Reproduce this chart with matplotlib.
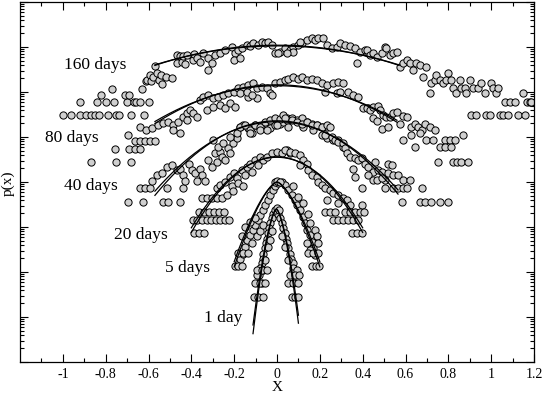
import numpy as np
import matplotlib
matplotlib.use("Agg")
import matplotlib.pyplot as plt
from matplotlib.ticker import LogLocator, NullFormatter, FixedLocator, FuncFormatter

plt.rcParams['font.family'] = ['Liberation Serif', 'DejaVu Serif']
plt.rcParams['axes.unicode_minus'] = False

# ---------------- data: x and log10 p(x) ----------------
x_160 = [-1.00, -0.96, -0.92, -0.89, -0.87, -0.85, -0.83, -0.79, -0.75, -0.74, -0.68, -0.62,
         -0.92, -0.84, -0.80, -0.76, -0.70, -0.67, -0.66, -0.64, -0.60,
         -0.82, -0.71, -0.69, -0.77, -0.63,
         -0.611, -0.606, -0.592, -0.587, -0.578, -0.569, -0.560, -0.550, -0.541, -0.536, -0.517, -0.490,
         -0.466, -0.466, -0.452, -0.443, -0.438, -0.429, -0.420, -0.392, -0.387, -0.373, -0.359,
         -0.344, -0.320, -0.305, -0.320, -0.289, -0.266, -0.242, -0.211, -0.196, -0.180,
         -0.165, -0.141, -0.126, -0.110, -0.087, -0.072, -0.056, -0.040, -0.025, -0.009,
         0.014, 0.037, 0.061, 0.076, 0.099, 0.115, 0.138, 0.162, 0.177, 0.193,
         0.216, 0.232, 0.255, 0.278, 0.294, 0.317, 0.340, 0.364, 0.387, 0.410,
         0.426, 0.372, -0.203, -0.172, 0.006, 0.107, 0.076, 0.045,
         0.418, 0.434, 0.449, 0.465, 0.488, 0.503, 0.511, 0.527, 0.542, 0.558,
         0.573, 0.589, 0.605, 0.620, 0.636, 0.651, 0.667, 0.682, 0.698, 0.713,
         0.721, 0.737, 0.744, 0.760, 0.775, 0.791, 0.799, 0.814, 0.822, 0.838,
         0.853, 0.861, 0.876, 0.884, 0.900, 0.915, 0.938, 0.954, 0.970, 1.000,
         1.008, 1.023, 1.031, 1.063, 1.086, 1.110, 1.149, 1.165, 1.180, 1.188,
         0.908, 0.931, 0.977, 0.993, 1.040, 1.055, 1.079, 1.126, 1.157]
lp_160 = [-2.52, -2.52, -2.52, -2.52, -2.52, -2.52, -2.52, -2.52, -2.52, -2.52, -2.52, -2.52,
          -2.23, -2.23, -2.23, -2.23, -2.23, -2.23, -2.23, -2.23, -2.23,
          -2.06, -2.06, -2.06, -1.93, -1.93,
          -1.75, -1.73, -1.62, -1.75, -1.66, -1.42, -1.57, -1.73, -1.62, -1.82, -1.66, -1.69,
          -1.18, -1.36, -1.20, -1.33, -1.21, -1.38, -1.18, -1.29, -1.16, -1.24, -1.33,
          -1.14, -1.25, -1.36, -1.50, -1.18, -1.13, -1.07, -0.99, -1.14, -1.07,
          -1.03, -0.96, -0.98, -0.92, -0.96, -0.88, -0.92, -0.88, -0.96, -1.14,
          -1.10, -1.03, -1.07, -0.99, -0.96, -0.92, -0.84, -0.81, -0.84, -0.81,
          -0.81, -0.96, -1.03, -0.99, -0.92, -0.96, -0.98, -1.03, -1.10, -1.07,
          -1.14, -1.36, -1.29, -1.25, -1.14, -0.88, -1.10, -1.14,
          -1.07, -1.18, -1.14, -1.22, -1.14, -0.99, -1.03, -1.18, -1.14, -1.10,
          -1.44, -1.36, -1.29, -1.36, -1.51, -1.36, -1.40, -1.66, -1.44, -2.03,
          -1.81, -1.73, -1.62, -1.73, -1.81, -1.73, -1.57, -1.73, -1.92, -2.03,
          -1.73, -1.92, -1.92, -2.03, -1.73, -1.92, -1.92, -1.81, -2.03, -1.81,
          -1.92, -2.03, -1.92, -2.22, -2.22, -2.22, -2.03, -2.22, -2.22, -2.22,
          -2.52, -2.52, -2.52, -2.52, -2.52, -2.52, -2.52, -2.52, -2.52]

x_80 = [-0.87, -0.75, -0.68, -0.755, -0.69, -0.665, -0.64, -0.662, -0.639, -0.615, -0.592, -0.569,
        -0.695, -0.639, -0.611, -0.583, -0.555,
        -0.531, -0.508, -0.485, -0.462, -0.438, -0.420, -0.406, -0.392, -0.485, -0.452,
        -0.420, -0.373, -0.326, -0.298, -0.135, -0.093,
        -0.359, -0.344, -0.320, -0.297, -0.274, -0.250, -0.227, -0.203, -0.180, -0.157,
        -0.134, -0.110, -0.095, -0.072, -0.048, -0.033, -0.009, 0.014, 0.037, 0.053,
        0.076, 0.099, 0.115, 0.138, 0.162, 0.185, 0.208, 0.232, 0.263, 0.286,
        0.309, 0.332, 0.356, 0.379, 0.402, 0.426,
        -0.266, -0.242, -0.219, -0.196, -0.172, -0.141, -0.118, -0.025, 0.224, 0.278, 0.294,
        0.418, 0.434, 0.449, 0.472, 0.480, 0.496, 0.511, 0.527, 0.542, 0.558,
        0.573, 0.589, 0.605, 0.628, 0.643, 0.659, 0.675, 0.690, 0.713, 0.737,
        0.449, 0.465, 0.488, 0.519, 0.589, 0.628, 0.667, 0.698, 0.729, 0.783,
        0.807, 0.830, 0.869, 0.643, 0.760, 0.783, 0.814,
        0.75, 0.82, 0.84, 0.86, 0.89]
lp_80 = [-3.56, -3.56, -3.56, -3.26, -3.26, -3.26, -3.26, -3.08, -3.08, -3.08, -3.08, -3.08,
         -2.96, -2.78, -2.84, -2.80, -2.73,
         -2.69, -2.67, -2.73, -2.67, -2.56, -2.47, -2.40, -2.47, -2.84, -2.91,
         -2.62, -2.56, -2.40, -2.33, -2.11, -2.13,
         -2.18, -2.10, -2.07, -2.14, -2.10, -2.07, -2.03, -1.99, -1.92, -1.88,
         -1.84, -1.81, -1.92, -1.88, -1.92, -2.03, -1.81, -1.77, -1.73, -1.70,
         -1.66, -1.70, -1.66, -1.73, -1.70, -1.73, -1.81, -1.84, -1.81, -1.77,
         -1.81, -1.99, -2.07, -2.10, -2.36, -2.36,
         -2.29, -2.36, -2.25, -2.33, -2.03, -1.99, -2.07, -2.07, -1.99, -2.03, -1.99,
         -2.36, -2.40, -2.33, -2.31, -2.40, -2.51, -2.55, -2.56, -2.47, -2.44,
         -2.70, -2.53, -2.55, -2.77, -2.70, -2.77, -2.84, -2.70, -2.77, -2.84,
         -2.58, -2.64, -2.83, -2.77, -3.07, -2.96, -2.92, -3.07, -3.07, -3.07,
         -3.07, -3.07, -2.96, -3.22, -3.22, -3.22, -3.22,
         -3.56, -3.56, -3.56, -3.56, -3.56]

x_40 = [-0.694, -0.625, -0.531, -0.508, -0.452, -0.639, -0.615, -0.592, -0.513, -0.438,
        -0.584, -0.561, -0.538, -0.514, -0.491, -0.468, -0.452, -0.437, -0.429, -0.413,
        -0.398, -0.382, -0.375, -0.359, -0.351, -0.336, -0.320, -0.305, -0.289, -0.282,
        -0.266, -0.258, -0.242, -0.227, -0.219, -0.204, -0.188, -0.172, -0.157, -0.134,
        -0.118, -0.103, -0.079, -0.064, -0.048, -0.033, -0.009, 0.014, 0.029, 0.045,
        -0.297, -0.274, -0.250, -0.219, -0.188, -0.172, -0.149, -0.126, -0.103, -0.079,
        -0.056, -0.033, -0.009, 0.014, 0.029, 0.045, 0.068, 0.092, 0.115, 0.138,
        0.162, 0.185, 0.208, 0.232, -0.126, -0.079, -0.048, -0.001, 0.053, 0.123,
        0.169, 0.208, 0.232, 0.263, 0.286, 0.309,
        0.037, 0.068, 0.092, 0.115, 0.138, 0.162, 0.185, 0.208, 0.232, 0.247, 0.224, 0.255, 0.270, 0.286,
        0.309, 0.317, 0.325, 0.340, 0.364, 0.379, 0.395, 0.410, 0.426, 0.449,
        0.472, 0.488, 0.519, 0.535, 0.503, 0.426, 0.449, 0.465, 0.488, 0.519,
        0.542, 0.566, 0.589, 0.620, 0.364, 0.356, 0.457,
        0.396, 0.503, 0.540, 0.564, 0.587, 0.606, 0.676,
        0.583, 0.667, 0.690, 0.720, 0.760, 0.797]
lp_40 = [-4.45, -4.45, -4.45, -4.45, -4.45, -4.14, -4.14, -4.14, -4.14, -4.14,
         -3.97, -3.84, -3.81, -3.66, -3.62, -3.73, -3.70, -3.84, -3.97, -3.59,
         -3.73, -3.81, -3.97, -3.70, -3.84, -3.97, -3.51, -3.66, -3.36, -3.55,
         -3.33, -3.44, -3.51, -3.25, -3.36, -3.14, -3.03, -2.77, -2.73, -2.81,
         -2.92, -2.73, -2.81, -2.73, -2.70, -2.81, -2.73, -2.70, -2.66, -2.58,
         -3.07, -3.22, -3.14, -2.99, -2.92, -2.77, -2.73, -2.84, -2.73, -2.77,
         -2.66, -2.62, -2.58, -2.61, -2.51, -2.62, -2.58, -2.62, -2.58, -2.66,
         -2.70, -2.73, -2.77, -2.77, -2.92, -2.84, -2.84, -2.73, -2.77, -2.77,
         -2.84, -2.96, -3.03, -3.07, -3.07, -3.22,
         -2.58, -2.62, -2.66, -2.70, -2.66, -2.73, -2.73, -2.77, -2.73, -2.77, -2.96, -2.99, -3.07, -3.10,
         -3.14, -3.25, -3.36, -3.44, -3.47, -3.51, -3.47, -3.59, -3.66, -3.77,
         -3.73, -3.77, -3.59, -3.62, -3.96, -3.84, -3.96, -3.96, -3.92, -3.81,
         -3.84, -3.84, -3.96, -3.96, -3.88, -3.70, -3.55,
         -4.14, -4.14, -4.14, -4.14, -4.14, -4.14, -4.14,
         -4.45, -4.45, -4.45, -4.45, -4.45, -4.45]

x_20 = [-0.387, -0.363, -0.340,
        -0.390, -0.373, -0.350, -0.326, -0.308, -0.284, -0.266, -0.242, -0.224,
        -0.364, -0.340, -0.317, -0.294, -0.270, -0.247,
        -0.281, -0.266, -0.242, -0.219, -0.203, -0.188, -0.165, -0.149, -0.141, -0.126,
        -0.118, -0.103, -0.087, -0.079, -0.064, -0.048, -0.025, -0.001, 0.022, 0.045,
        0.061, -0.351, -0.328, -0.305, -0.282, -0.258, -0.235, -0.212, -0.204, -0.181, -0.157,
        0.037, 0.061, 0.084, 0.107, 0.123, 0.138, 0.107, 0.146, 0.162, 0.185,
        0.193, 0.208, 0.224, 0.247, 0.263, 0.286, 0.309, 0.325, 0.340, 0.395, 0.232, 0.286,
        0.348, 0.374, 0.398,
        0.261, 0.284, 0.308, 0.331, 0.354, 0.378,
        0.224, 0.247, 0.270, 0.317, 0.340, 0.364, 0.387, 0.406]
lp_20 = [-5.13, -5.13, -5.13,
         -4.84, -4.84, -4.84, -4.84, -4.84, -4.84, -4.84, -4.84, -4.84,
         -4.66, -4.66, -4.66, -4.66, -4.66, -4.66,
         -4.14, -4.07, -3.99, -3.88, -3.81, -3.92, -3.73, -3.84, -3.66, -3.59,
         -3.77, -3.51, -3.62, -3.44, -3.51, -3.44, -3.36, -3.33, -3.36, -3.29,
         -3.36, -4.36, -4.36, -4.36, -4.36, -4.36, -4.29, -4.10, -4.21, -4.03, -4.10,
         -3.29, -3.33, -3.36, -3.40, -3.51, -3.59, -3.62, -3.73, -3.84, -3.88,
         -3.99, -4.07, -4.14, -4.18, -4.25, -4.29, -4.36, -4.40, -4.51, -4.51, -4.40, -4.47,
         -5.13, -5.13, -5.13,
         -4.84, -4.84, -4.84, -4.84, -4.84, -4.84,
         -4.66, -4.66, -4.66, -4.66, -4.66, -4.66, -4.66, -4.66]

x_5 = [-0.172, -0.157, -0.149, -0.141, -0.126, -0.110, -0.103, -0.087, -0.079, -0.064,
       -0.056, -0.040, -0.033, -0.017, -0.009, 0.006, 0.022, -0.118, -0.095, -0.079,
       -0.064, -0.126, -0.149, -0.165, -0.103,
       0.037, 0.053, 0.068, 0.084, 0.092, 0.107, 0.123, 0.131, 0.138, 0.154,
       0.162, 0.169, 0.177, 0.076, 0.099, 0.123, 0.146, 0.154, 0.177, 0.185,
       0.193, 0.154, 0.138,
       -0.196, -0.182, -0.165, 0.163, 0.182, 0.196,
       -0.180, -0.157, -0.135, 0.145, 0.168, 0.190,
       -0.010, 0.000, 0.015]
lp_5 = [-5.70, -5.59, -5.44, -5.29, -5.18, -5.07, -4.96, -4.84, -4.73, -4.62,
        -4.51, -4.40, -4.29, -4.18, -4.10, -4.03, -3.99, -5.36, -5.21, -5.10,
        -4.96, -4.88, -4.99, -5.21, -4.81,
        -4.07, -4.18, -4.29, -4.40, -4.51, -4.62, -4.77, -4.92, -5.07, -5.18,
        -5.33, -5.47, -5.62, -4.10, -4.33, -4.47, -4.70, -4.92, -5.07, -5.21,
        -5.36, -5.51, -5.36,
        -5.87, -5.87, -5.87, -5.87, -5.87, -5.87,
        -5.57, -5.57, -5.57, -5.57, -5.57, -5.57,
        -3.99, -3.97, -4.00]

x_1 = [-0.017, -0.025, -0.033, -0.036, -0.040, -0.048, -0.051, -0.056, -0.064, -0.067,
       -0.071, -0.079, -0.082, -0.087, -0.056, -0.040, -0.033, -0.025, -0.064, -0.095, -0.071,
       0.006, 0.014, 0.022, 0.029, 0.037, 0.042, 0.048, 0.053, 0.061, 0.065,
       0.073, 0.076, 0.084, 0.053, 0.037, 0.022, 0.068, 0.092,
       -0.107, -0.087, -0.065, 0.068, 0.084, 0.099,
       -0.103, -0.079, -0.056, 0.050, 0.075, 0.099,
       0.061, 0.084, 0.103, -0.093, -0.070, -0.047,
       -0.008, 0.000, 0.008]
lp_1 = [-4.70, -4.81, -4.92, -5.03, -5.14, -5.26, -5.36, -5.47, -5.59, -5.70,
        -5.81, -5.92, -6.07, -6.25, -5.73, -5.44, -5.29, -5.10, -5.96, -6.07, -6.25,
        -4.70, -4.81, -4.92, -5.03, -5.14, -5.26, -5.36, -5.47, -5.59, -5.70,
        -5.81, -5.92, -6.07, -5.73, -5.44, -5.21, -6.03, -5.96,
        -6.55, -6.55, -6.55, -6.55, -6.55, -6.55,
        -6.25, -6.25, -6.25, -6.25, -6.25, -6.25,
        -6.07, -6.07, -6.07, -5.96, -5.96, -5.96,
        -4.62, -4.58, -4.62]

labels = ["160 days", "80 days", "40 days", "20 days", "5 days", "1 day"]
label_x = [-0.85, -0.96, -0.87, -0.634, -0.42, -0.25]
label_lp = [-1.41, -3.03, -4.09, -5.18, -5.91, -7.02]

# fitted curves: log10 p = a - b*|x-mu|**alpha on [xmin, xmax]; two fits per series
fits = [
    [(-0.96, 0.0, 1.38, 2.0, -0.57, 0.57), (-0.975, 0.0, 1.30, 2.0, -0.57, 0.57)],
    [(-1.84, 0.0, 2.65, 2.0, -0.57, 0.56), (-1.86, 0.0, 2.45, 2.0, -0.57, 0.56)],
    [(-2.64, 0.0, 5.10, 2.0, -0.57, 0.565), (-2.66, 0.0, 4.75, 2.0, -0.57, 0.565)],
    [(-3.44, 0.0, 10.5, 2.0, -0.40, 0.40), (-3.45, 0.0, 9.8, 2.0, -0.40, 0.40)],
    [(-4.00, 0.0, 21.1, 1.5, -0.20, 0.20), (-4.00, 0.0, 19.8, 1.5, -0.20, 0.20)],
    [(-4.60, -0.003, 86.0, 1.55, -0.112, 0.10), (-4.60, -0.003, 80.0, 1.55, -0.112, 0.10)],
]

series = [(x_160, lp_160), (x_80, lp_80), (x_40, lp_40), (x_20, lp_20), (x_5, lp_5), (x_1, lp_1)]

# ---------------- figure ----------------
fig = plt.figure(figsize=(5.45, 3.93), dpi=100)
ax = fig.add_axes([20 / 545, 1 - 362 / 393, 514 / 545, 360 / 393])

for (xs, lps) in series:
    ax.plot(np.array(xs), 10.0 ** np.array(lps), linestyle='none', marker='o',
            markersize=5.2, markerfacecolor='#cfcfcf', markeredgecolor='black',
            markeredgewidth=0.7, zorder=2)

for fit_pair in fits:
    for (a, mu, b, alpha, xmin, xmax) in fit_pair:
        xx = np.linspace(xmin, xmax, 300)
        ax.plot(xx, 10.0 ** (a - b * np.abs(xx - mu) ** alpha), color='black', lw=0.9, zorder=3)

for t, lx, ly in zip(labels, label_x, label_lp):
    ax.text(lx, 10.0 ** ly, t, fontsize=12.5, ha='center', va='center')

ax.set_yscale('log')
ax.set_xlim(-1.2, 1.2)
ax.set_ylim(1e-8, 1e0)

major_x = [-1.0, -0.8, -0.6, -0.4, -0.2, 0.0, 0.2, 0.4, 0.6, 0.8, 1.0, 1.2]
ax.xaxis.set_major_locator(FixedLocator(major_x))
ax.xaxis.set_minor_locator(FixedLocator(np.arange(-1.1, 1.2, 0.2)))
ax.xaxis.set_major_formatter(FuncFormatter(lambda v, p: "%g" % round(v, 2)))
ax.yaxis.set_major_locator(LogLocator(base=10, numticks=20))
ax.yaxis.set_minor_locator(LogLocator(base=10, subs=np.arange(2, 10), numticks=100))
ax.yaxis.set_major_formatter(NullFormatter())
ax.yaxis.set_minor_formatter(NullFormatter())

ax.tick_params(which='both', direction='in', top=True, right=True, width=0.8)
ax.tick_params(which='major', length=6, labelsize=10, pad=4)
ax.tick_params(which='minor', length=3.2)
for s in ax.spines.values():
    s.set_linewidth(0.9)

ax.set_xlabel("X", fontsize=11, labelpad=0)
fig.text(8.5 / 545, 1 - 183 / 393, "p(x)", fontsize=11, rotation=90, ha='center', va='center')

fig.savefig("out.png", dpi=100)
